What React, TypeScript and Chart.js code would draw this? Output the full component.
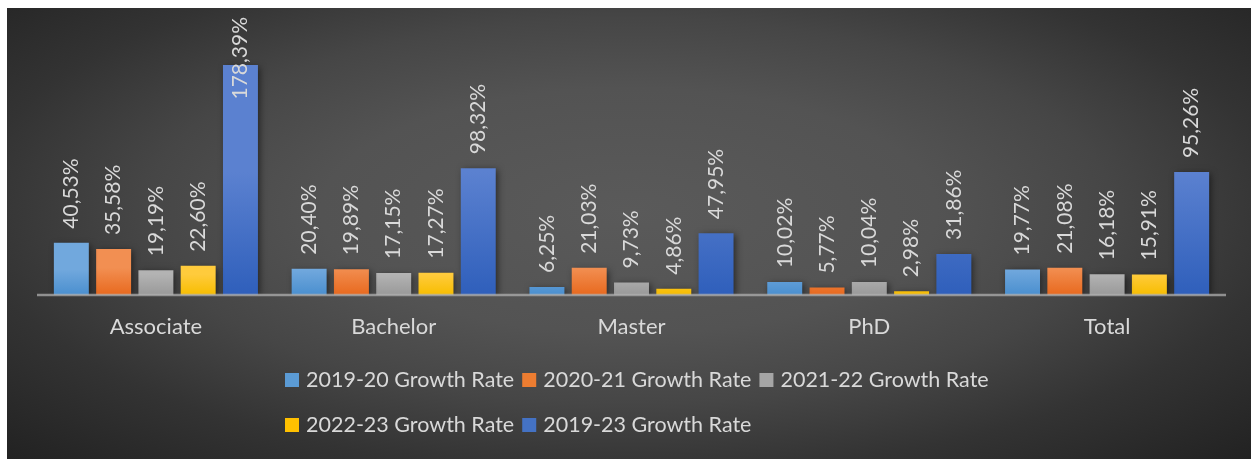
import React, { useEffect, useRef } from "react";
import { Chart, registerables } from "chart.js";
Chart.register(...registerables);

const categories = ["Associate", "Bachelor", "Master", "PhD", "Total"];
const seriesNames = [
  "2019-20 Growth Rate",
  "2020-21 Growth Rate",
  "2021-22 Growth Rate",
  "2022-23 Growth Rate",
  "2019-23 Growth Rate",
];
const growth1920 = [40.53, 20.4, 6.25, 10.02, 19.77];
const growth2021 = [35.58, 19.89, 21.03, 5.77, 21.08];
const growth2122 = [19.19, 17.15, 9.73, 10.04, 16.18];
const growth2223 = [22.6, 17.27, 4.86, 2.98, 15.91];
const growth1923 = [178.39, 98.32, 47.95, 31.86, 95.26];
const seriesValues = [growth1920, growth2021, growth2122, growth2223, growth1923];

const topColors = ["#71a8dd", "#f28f52", "#b3b3b3", "#ffcb3c", "#5b81d0"];
const bottomColors = ["#4a8fcf", "#e8691e", "#999999", "#f7bd00", "#2f5fbb"];
const legendColors = ["#5b9bd5", "#ed7d31", "#a5a5a5", "#ffc000", "#4472c4"];

const W = 1244;
const H = 451;
const FONT = "Lato, 'Open Sans', sans-serif";
const TEXT = "#d9d9d9";

const fmt = (v: number) => v.toFixed(2).replace(".", ",") + "%";

const barStyle = {
  id: "barStyle",
  beforeDatasetsDraw(chart: any) {
    const ctx = chart.ctx;
    chart.data.datasets.forEach((ds: any, di: number) => {
      const meta = chart.getDatasetMeta(di);
      meta.data.forEach((el: any) => {
        const g = ctx.createLinearGradient(0, el.y, 0, el.base);
        g.addColorStop(0, topColors[di]);
        g.addColorStop(1, bottomColors[di]);
        el.options.backgroundColor = g;
      });
    });
    ctx.save();
    ctx.shadowColor = "rgba(0,0,0,0.55)";
    ctx.shadowBlur = 7;
    ctx.shadowOffsetX = 2;
    ctx.shadowOffsetY = 2;
  },
  afterDatasetsDraw(chart: any) {
    const ctx = chart.ctx;
    ctx.restore();
    const { left, right, bottom } = chart.chartArea;
    // axis line
    ctx.save();
    ctx.strokeStyle = "rgba(175,175,175,0.75)";
    ctx.lineWidth = 2.5;
    ctx.beginPath();
    ctx.moveTo(left, bottom);
    ctx.lineTo(right, bottom);
    ctx.stroke();
    ctx.restore();
    // data labels
    ctx.save();
    ctx.font = `21px ${FONT}`;
    ctx.fillStyle = TEXT;
    ctx.textAlign = "left";
    ctx.textBaseline = "middle";
    chart.data.datasets.forEach((ds: any, di: number) => {
      const meta = chart.getDatasetMeta(di);
      meta.data.forEach((el: any, i: number) => {
        const txt = fmt(ds.data[i]);
        const w = ctx.measureText(txt).width;
        let start = el.y - 14;
        const minEnd = 9;
        if (start - w < minEnd) start = minEnd + w;
        ctx.save();
        ctx.translate(el.x, start);
        ctx.rotate(-Math.PI / 2);
        ctx.fillText(txt, 0, 0);
        ctx.restore();
      });
    });
    ctx.restore();
  },
  afterDraw(chart: any) {
    const ctx = chart.ctx;
    ctx.save();
    ctx.font = `21.5px ${FONT}`;
    ctx.textAlign = "left";
    ctx.textBaseline = "middle";
    const rows = [
      [0, 1, 2],
      [3, 4],
    ];
    const rowY = [372, 417];
    rows.forEach((row, ri) => {
      let x = 278;
      row.forEach((si) => {
        const y = rowY[ri];
        ctx.fillStyle = legendColors[si];
        ctx.fillRect(x, y - 7, 14, 14);
        ctx.fillStyle = TEXT;
        ctx.fillText(seriesNames[si], x + 21, y);
        x += 21 + ctx.measureText(seriesNames[si]).width + 8;
      });
    });
    ctx.restore();
  },
};

export default function App() {
  const ref = useRef<HTMLCanvasElement | null>(null);
  useEffect(() => {
    if (!ref.current) return;
    const chart = new Chart(ref.current, {
      type: "bar",
      data: {
        labels: categories,
        datasets: seriesValues.map((vals, i) => ({
          label: seriesNames[i],
          data: vals,
          backgroundColor: legendColors[i],
          borderWidth: 0,
          barPercentage: 0.827,
          categoryPercentage: 0.889,
        })),
      },
      options: {
        responsive: false,
        maintainAspectRatio: false,
        animation: false,
        layout: { padding: { left: 30, right: 25, top: 29, bottom: 0 } },
        plugins: {
          legend: { display: false },
          tooltip: { enabled: false },
        },
        scales: {
          x: {
            grid: { display: false, drawTicks: false },
            border: { display: false },
            ticks: {
              color: TEXT,
              font: { family: FONT, size: 22 },
              padding: 19,
            },
            afterFit: (s: any) => {
              s.height = 164;
            },
          },
          y: { display: false, min: 0, max: 200 },
        },
      },
      plugins: [barStyle],
    });
    return () => chart.destroy();
  }, []);
  return (
    <div
      style={{
        position: "absolute",
        left: 7,
        top: 8,
        width: W,
        height: H,
        background:
          "radial-gradient(ellipse farthest-corner at 50% 45%, #5a5a5a 0%, #535353 35%, #464646 55%, #333333 75%, #222222 100%)",
      }}
    >
      <canvas ref={ref} width={W} height={H} style={{ display: "block", width: W, height: H }} />
    </div>
  );
}
